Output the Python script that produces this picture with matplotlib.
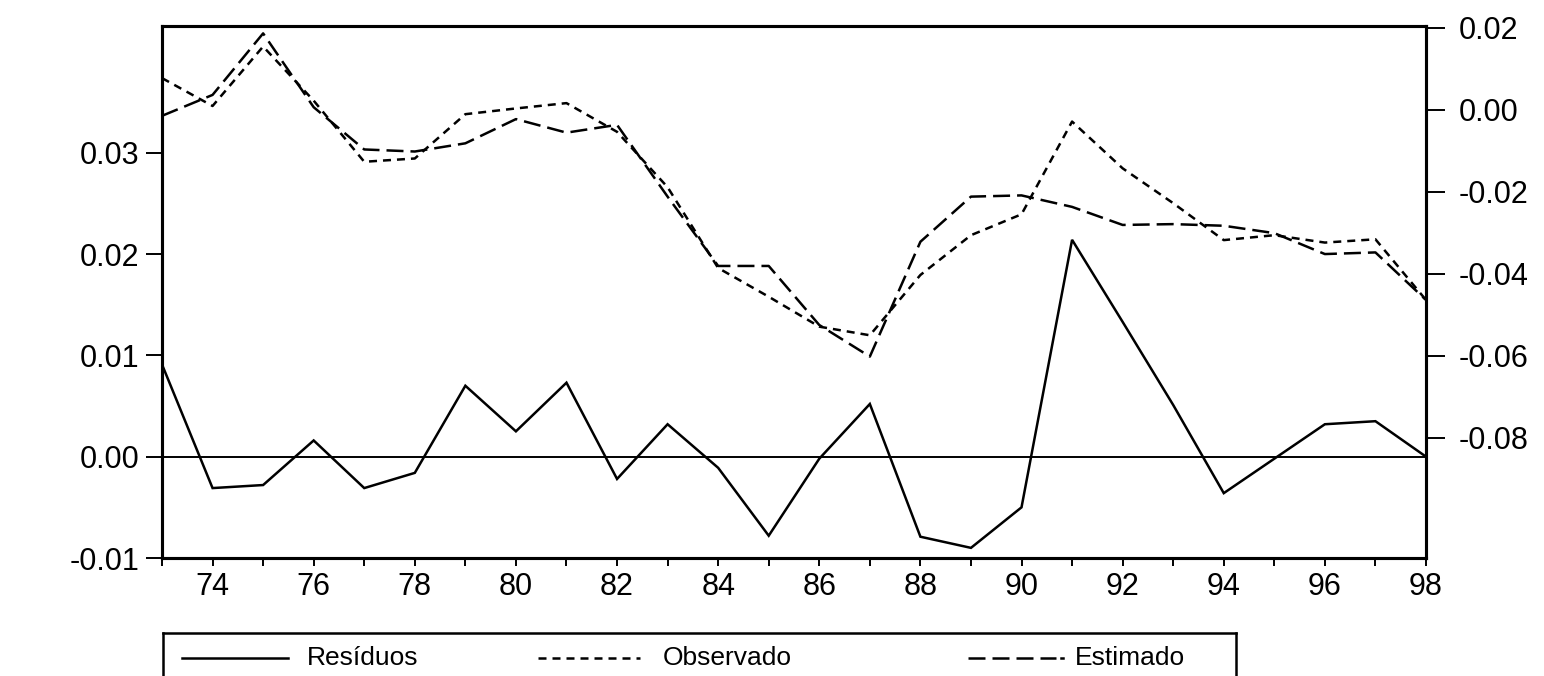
import matplotlib
matplotlib.use("Agg")
import matplotlib.pyplot as plt

plt.rcParams['font.family'] = ['Liberation Sans', 'DejaVu Sans']

years = list(range(1973, 1999))
residuos = [0.0091, -0.0031, -0.0028, 0.0016, -0.0031, -0.0016, 0.0070, 0.0025,
            0.0073, -0.0022, 0.0032, -0.0011, -0.0078, -0.0002, 0.0052, -0.0079,
            -0.0090, -0.0050, 0.0214, 0.0133, 0.0051, -0.0036, -0.0002, 0.0032,
            0.0035, 0.0000]
observado = [0.0077, 0.0009, 0.0154, 0.0022, -0.0127, -0.0119, -0.0011, 0.0003,
             0.0016, -0.0054, -0.0189, -0.0386, -0.0456, -0.0529, -0.0550, -0.0403,
             -0.0306, -0.0255, -0.0029, -0.0143, -0.0228, -0.0318, -0.0306, -0.0324,
             -0.0316, -0.0464]
estimado = [-0.0015, 0.0036, 0.0186, 0.0006, -0.0097, -0.0102, -0.0082, -0.0023,
            -0.0056, -0.0037, -0.0212, -0.0381, -0.0381, -0.0525, -0.0602, -0.0322,
            -0.0212, -0.0209, -0.0237, -0.0281, -0.0279, -0.0283, -0.0301, -0.0352,
            -0.0348, -0.0464]

left_ticks = [-0.01, 0.00, 0.01, 0.02, 0.03]
right_ticks = [-0.08, -0.06, -0.04, -0.02, 0.00, 0.02]
legend_labels = ['Resíduos', 'Observado', 'Estimado']

W, H = 1544, 676
fig = plt.figure(figsize=(W / 100, H / 100), dpi=100)
L, R, T, B = 162, 1426, 26, 558
ax = fig.add_axes([L / W, 1 - B / H, (R - L) / W, (B - T) / H])
ax2 = ax.twinx()

lw = 1.8
short_dash = (0, (3.2, 2.4))
long_dash = (0, (6.8, 2.8))

ax.plot(years, residuos, color='black', lw=lw, solid_joinstyle='miter')
ax.axhline(0, color='black', lw=1.4)
ax2.plot(years, observado, color='black', lw=lw, linestyle=short_dash)
ax2.plot(years, estimado, color='black', lw=lw, linestyle=long_dash)

ax.set_xlim(1973, 1998)
ax.set_ylim(-0.01, 0.0425)
ax2.set_ylim(-0.1093, 0.0204)

ax.set_xticks(years)
ax.set_xticklabels([f"{y % 100:02d}" if y % 2 == 0 else "" for y in years])
ax.set_yticks(left_ticks)
ax.set_yticklabels([f"{v:.2f}" for v in left_ticks])
ax2.set_yticks(right_ticks)
ax2.set_yticklabels([f"{v:.2f}" for v in right_ticks])

ax.tick_params(axis='x', direction='out', length=6, width=1.4, labelsize=22, pad=4,
               top=False)
ax.tick_params(axis='y', direction='out', length=11.5, width=1.4, labelsize=22, pad=5,
               right=False)
ax2.tick_params(axis='y', direction='out', length=13.5, width=1.4, labelsize=22, pad=10)

for a in (ax, ax2):
    for s in a.spines.values():
        s.set_linewidth(2.2)
        s.set_color('black')

# legend box (extends below the figure bottom as in the reference)
lb_left, lb_right, lb_top, lb_bot = 163, 1236, 633, 720
axl = fig.add_axes([lb_left / W, 1 - lb_bot / H, (lb_right - lb_left) / W,
                    (lb_bot - lb_top) / H])
axl.set_xlim(lb_left, lb_right)
axl.set_ylim(lb_bot, lb_top)
axl.set_xticks([])
axl.set_yticks([])
for s in axl.spines.values():
    s.set_linewidth(1.8)
ly = 658
axl.plot([182, 288], [ly, ly], color='black', lw=lw)
axl.plot([538, 640], [ly, ly], color='black', lw=lw, linestyle=short_dash)
axl.plot([968, 1056], [ly, ly], color='black', lw=lw, linestyle=long_dash)
axl.plot([1061, 1063], [ly, ly], color='black', lw=lw)
for xt, lab in zip([307, 663, 1075], legend_labels):
    axl.text(xt, ly, lab, fontsize=19, va='center', ha='left')

fig.savefig('out.png', dpi=100)
